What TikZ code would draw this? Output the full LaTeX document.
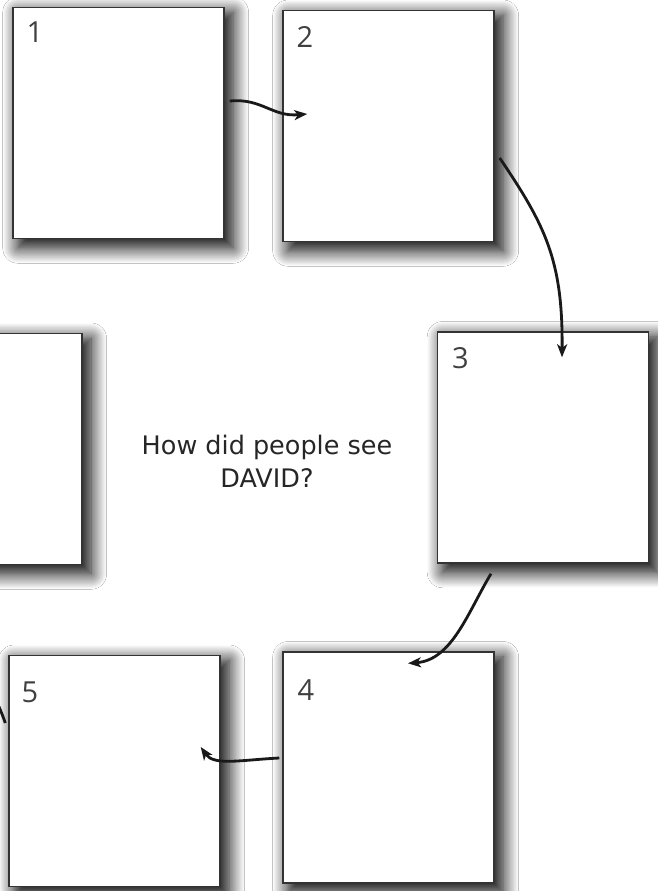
\documentclass[tikz,border=0pt]{standalone}
\usepackage{fontspec}
\newfontfamily\qfont{DejaVu Sans}
\newfontfamily\numfont{Open Sans}
\usetikzlibrary{arrows.meta,positioning,calc,shadows.blur}

\begin{document}
\begin{tikzpicture}[x=1pt,y=-1pt,>={Stealth[length=13pt,width=10pt,inset=3.5pt]},
  panel/.style={draw=black!80,line width=1.4pt,fill=white,minimum width=211pt,minimum height=231pt,inner sep=0pt,
    blur shadow={shadow xshift=7pt,shadow yshift=-7pt,shadow scale=1.02,shadow blur radius=15pt,shadow blur steps=20,shadow opacity=100}},
  num/.style={anchor=north west,inner sep=0pt,text=black!75,font=\numfont\fontsize{29}{29}\selectfont},
  flow/.style={->,line width=2.8pt,draw=black!90}]
\useasboundingbox (0,0) rectangle (658,891);
\fill[white] (0,0) rectangle (658,891);
\clip (0,0) rectangle (658,891);
\node[panel] (p1) at (118.5,123) {};
\node[panel] (p2) at (388.5,126) {};
\node[panel] (p3) at (543,447.5) {};
\node[panel] (p4) at (388.5,767.5) {};
\node[panel] (p5) at (114.5,771) {};
\node[panel] (p6) at (-23.5,449) {};
\node[num] (n1) at ([shift={(14,15)}]p1.north west) {1};
\node[num] (n2) at ([shift={(14,17)}]p2.north west) {2};
\node[num] (n3) at ([shift={(15,16)}]p3.north west) {3};
\node[num] (n4) at ([shift={(15,28)}]p4.north west) {4};
\node[num] (n5) at ([shift={(13,27)}]p5.north west) {5};
\node[align=center,text=black!85,font=\qfont\fontsize{25.5}{33}\selectfont] (q) at (267,461) {How did people see\\DAVID?};
\draw[flow] ([shift={(5,-22)}]p1.east) .. controls (262,98) and (272,117) .. ([shift={(25,-12)}]p2.west);
\draw[flow] ([shift={(5,32)}]p2.east) .. controls (545,225) and (563,260) .. ([shift={(19,26)}]p3.north);
\draw[flow] ([shift={(-52,10)}]p3.south) .. controls (468,612) and (452,660) .. ([shift={(19.5,12)}]p4.north);
\draw[flow] ([shift={(-3,-9.5)}]p4.west) .. controls (240,760) and (214,766) .. ([shift={(-20,-24)}]p5.east);
\draw[flow] ([shift={(-3,-48)}]p5.west) .. controls (-6,690) and (-30,650) .. ([shift={(-20,64)}]p6.south);
\end{tikzpicture}
\end{document}
